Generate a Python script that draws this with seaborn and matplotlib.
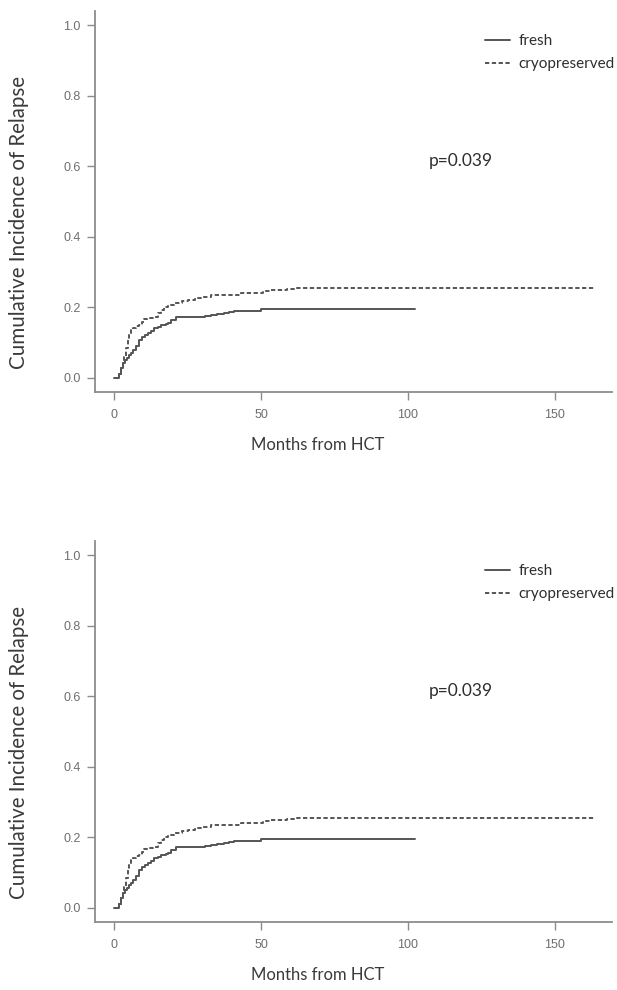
import matplotlib
matplotlib.use("Agg")
import matplotlib.pyplot as plt
import pandas as pd
import seaborn as sns

# Cumulative incidence of relapse by graft type (step estimates)
fresh_months = [0, 0.7, 1.5, 2.2, 2.9, 3.6, 4.4, 5.2, 5.8, 6.6, 7.4, 8.6, 9.5,
                10.5, 11.5, 12.6, 13.7, 14.8, 16.0, 17.5, 18.2, 19.5, 21.0,
                25.0, 29.6, 31.0, 33.0, 35.0, 37.5, 39.0, 40.9, 50.0, 102.4]
fresh_cir = [0, 0, 0.012, 0.028, 0.042, 0.050, 0.057, 0.064, 0.070, 0.080,
             0.090, 0.108, 0.115, 0.121, 0.127, 0.134, 0.141, 0.145, 0.150,
             0.152, 0.155, 0.163, 0.172, 0.172, 0.173, 0.176, 0.178, 0.180,
             0.183, 0.186, 0.190, 0.195, 0.195]

cryo_months = [0, 0.7, 1.5, 2.2, 2.9, 3.4, 3.9, 4.6, 5.2, 5.8, 6.3, 7.5, 8.6,
               9.5, 10.3, 11.7, 13.1, 14.8, 16.0, 17.1, 18.5, 20.5, 23.0, 25.0,
               27.5, 29.6, 33.0, 40.9, 43.2, 48.9, 50.6, 53.0, 56.8, 59.0,
               61.3, 163.8]
cryo_cir = [0, 0, 0.012, 0.028, 0.042, 0.060, 0.085, 0.108, 0.125, 0.135,
            0.141, 0.146, 0.150, 0.158, 0.166, 0.170, 0.174, 0.183, 0.192,
            0.200, 0.206, 0.213, 0.217, 0.221, 0.226, 0.230, 0.235, 0.235,
            0.240, 0.240, 0.247, 0.248, 0.249, 0.252, 0.256, 0.256]

group_labels = ["fresh", "cryopreserved"]
x_ticks = [0, 50, 100, 150]
y_ticks = [0.0, 0.2, 0.4, 0.6, 0.8, 1.0]
p_value_text = "p=0.039"

curves = pd.concat([
    pd.DataFrame({"month": fresh_months, "cir": fresh_cir, "graft": group_labels[0]}),
    pd.DataFrame({"month": cryo_months, "cir": cryo_cir, "graft": group_labels[1]}),
], ignore_index=True)

sns.set_theme(style="white")
plt.rcParams["font.family"] = ["Liberation Sans", "DejaVu Sans"]

W, H = 617, 990
fig = plt.figure(figsize=(W / 100, H / 100), dpi=100)
fig.patch.set_facecolor("white")

line_color = "#555555"
axis_color = "#8c8c8c"
label_font = ["Lato", "DejaVu Sans"]

panel_tops = [11, 541]
for top in panel_tops:
    ax = fig.add_axes([95 / W, 1 - (top + 381) / H, 517 / W, 381 / H])
    sns.lineplot(
        data=curves, x="month", y="cir", hue="graft", style="graft",
        hue_order=group_labels, style_order=group_labels,
        palette={g: line_color for g in group_labels},
        dashes={group_labels[0]: "", group_labels[1]: (2.2, 1.3)},
        drawstyle="steps-post", estimator=None, sort=False,
        linewidth=1.4, legend=False, ax=ax,
    )
    ax.set_xlim(-6.5, 169.5)
    ax.set_ylim(-0.04, 1.04)
    ax.set_xticks(x_ticks)
    ax.set_yticks(y_ticks)
    ax.set_xticklabels([str(t) for t in x_ticks])
    ax.set_yticklabels([f"{t:.1f}" for t in y_ticks])
    for side in ("top", "right"):
        ax.spines[side].set_visible(False)
    for side in ("left", "bottom"):
        ax.spines[side].set_color(axis_color)
        ax.spines[side].set_linewidth(1.3)
    ax.tick_params(axis="both", which="major", direction="out", length=5.5,
                   width=1.0, color=axis_color, labelsize=9, labelcolor="#6e6e6e",
                   bottom=True, left=True)
    ax.tick_params(axis="x", pad=7)
    ax.tick_params(axis="y", pad=5)

    ax.set_xlabel("Months from HCT", fontsize=12, color="#3a3a3a", family=label_font)
    ax.xaxis.set_label_coords(0.43, -0.118)
    ax.set_ylabel("Cumulative Incidence of Relapse", fontsize=14.8, color="#3a3a3a",
                  family=label_font)
    ax.yaxis.set_label_coords(-0.128, 0.444)

    ax.text(0.646, 0.607, p_value_text, transform=ax.transAxes, fontsize=12.5,
            color="#2e2e2e", family=label_font, ha="left", va="center")

    ax.legend(handles=ax.get_lines(), labels=group_labels, loc="upper left",
              bbox_to_anchor=(0.755, 0.939), frameon=False, borderaxespad=0,
              borderpad=0, handlelength=1.6, handletextpad=0.55, labelspacing=0.6,
              prop={"family": label_font, "size": 11}, labelcolor="#2e2e2e")

fig.savefig("out.png", dpi=100, facecolor="white")
